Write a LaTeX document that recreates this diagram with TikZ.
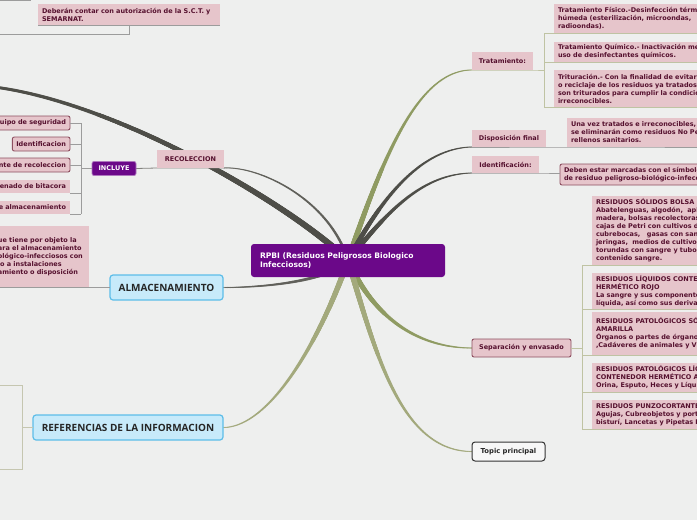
\documentclass[tikz,border=0pt]{standalone}
\usepackage{fontspec}
\setmainfont{DejaVu Sans}
\newfontfamily\osans{Open Sans}
\usetikzlibrary{calc,decorations.markings}
\definecolor{bgc}{HTML}{EEEFEE}
\definecolor{pinkf}{HTML}{E6C5CB}
\definecolor{pinkt}{HTML}{55102E}
\definecolor{pinkd}{HTML}{8E4F60}
\definecolor{purp}{HTML}{6B0889}
\definecolor{bluef}{HTML}{C7EAFA}
\definecolor{blued}{HTML}{5DBDE8}
\definecolor{darkl}{HTML}{4E4E48}
\definecolor{olv}{HTML}{8F9B62}
\definecolor{olvl}{HTML}{A3A97C}
\definecolor{grl}{HTML}{9C9C9C}
\definecolor{khk}{HTML}{C5C6B0}
\newcommand\pkfont{\fontsize{6.5}{8}\selectfont\bfseries}
\newcommand\rootfont{\fontsize{7.6}{9}\selectfont\bfseries}
\newcommand\bluefont{\osans\bfseries\fontsize{10}{12}\selectfont}
\newcommand\topfont{\fontsize{6.8}{8}\selectfont\bfseries}
\pgfdeclarelayer{bglayer}
\pgfdeclarelayer{linelayer}
\pgfsetlayers{bglayer,linelayer,main}
\tikzset{
  pk/.style={fill=pinkf, text=pinkt, font=\pkfont, inner xsep=4pt, inner ysep=2pt, anchor=north west, align=left, outer sep=0pt},
  pkb/.style={pk, draw=pinkd, line width=0.9pt, rounded corners=2pt},
  rootbox/.style={fill=purp, text=white, font=\rootfont, rounded corners=3pt, anchor=north west, align=left, inner xsep=9pt, outer sep=0pt},
  purpbox/.style={fill=purp, draw=purp!55!white, line width=0.8pt, text=white, font=\pkfont, rounded corners=2pt, anchor=north west, outer sep=0pt, inner sep=1pt},
  bluebox/.style={fill=bluef, draw=blued, line width=1.2pt, rounded corners=3pt, text=black!85, font=\bluefont, anchor=north west, outer sep=0pt, inner sep=1pt},
  topbox/.style={fill=black!3, draw=black!80, line width=1pt, rounded corners=3pt, text=black!85, font=\topfont, anchor=north west, outer sep=0pt, inner sep=1pt},
  taper/.style n args={3}{postaction={decorate, decoration={markings,
      mark=between positions 0 and 1 step 0.6pt with {%
        \pgfmathsetmacro\tapr{(#1+(#2-#1)*\pgfkeysvalueof{/pgf/decoration/mark info/distance from start}/\pgfdecoratedpathlength)/2}%
        \fill[#3] (0,0) circle (\tapr pt);}}}},
  gl/.style={draw=grl, line width=0.8pt},
  glo/.style={draw=olvl!70!white, line width=0.8pt},
  glk/.style={draw=khk, line width=0.9pt},
}
\begin{document}
\begin{tikzpicture}[x=1pt,y=-1pt]
\useasboundingbox (0,0) rectangle (697,520);
\begin{pgfonlayer}{bglayer}
\fill[bgc] (0,0) rectangle (697,520);
\end{pgfonlayer}
\clip (0,0) rectangle (697,520);

% root
\node[rootbox, minimum width=194pt, minimum height=33pt, text width=176pt] (root) at (251,244) {RPBI (Residuos Peligrosos Biologico\\Infecciosos)};

% ---------- left side ----------
\node[pk, text width=174pt, minimum height=21pt] (sct) at (38,4) {Deberán contar con autorización de la S.C.T. y\\SEMARNAT.};
\coordinate (tl1) at (-1,34);
\coordinate (tl2) at (-1,0.5);
\coordinate (tl3) at (31,0.5);
\draw[gl] (sct.south west) -- (sct.south east);
\draw[gl] (sct.south) |- (tl1);
\draw[gl] (tl2) -- (tl3);

\coordinate (ulend) at (-6,87);
\node[pk, minimum width=67pt, minimum height=18pt, align=center] (rec) at (157,150) {RECOLECCION};
\node[purpbox, minimum width=44pt, minimum height=14pt] (inc) at (92,161.5) {INCLUYE};

\node[pkb, anchor=north east, text width=90pt, align=right, minimum height=14pt] (e1) at (70,116) {uipo de seguridad};
\node[pkb, anchor=north east, minimum height=14pt] (e2) at (70,137) {Identificacion};
\node[pkb, anchor=north east, text width=90pt, align=right, minimum height=14pt] (e3) at (70,158) {nte de recoleccion};
\node[pk, anchor=north east, text width=90pt, align=right, minimum height=13pt] (e4) at (70,180) {lenado de bitacora};
\node[pk, anchor=north east, text width=90pt, align=right, minimum height=13pt] (e5) at (70,201) {e almacenamiento};
\coordinate (bt) at (81,123);
\coordinate (bb) at (81,214);
\draw[gl] (bt) -- (bb);
\draw[gl] (inc.west) -- (inc.west -| bt);
\draw[gl] (e1.east) -- (e1.east -| bt);
\draw[gl] (e2.east) -- (e2.east -| bt);
\draw[gl] (e3.east) -- (e3.east -| bt);
\draw[gl] (e4.south east) -- (e4.south east -| bt);
\draw[gl] (e5.south east) -- (e5.south east -| bt);

\node[bluebox, minimum width=113pt, minimum height=25pt] (alm) at (110,275) {ALMACENAMIENTO};
\node[pk, text width=90pt, inner xsep=1pt, minimum height=61pt] (almtxt) at (-3,226) {ue tiene por objeto la\\ara el almacenamiento\\ológico-infecciosos con\\io a instalaciones\\amiento o disposición};
\draw[gl] (alm.west) -- (alm.west -| almtxt.west);

\node[bluebox, minimum width=190pt, minimum height=25pt] (ref) at (33,415) {REFERENCIAS DE LA INFORMACION};
\coordinate (rb1) at (22,385);
\coordinate (rb2) at (22,469);
\coordinate (rl1) at (-1,385);
\coordinate (rl2) at (-1,469);
\draw[glk] (ref.west) -- (ref.west -| rb1);
\draw[glk] (rl1) -- (rb1) -- (rb2) -- (rl2);

% ---------- right side ----------
\node[pk, minimum width=61pt, minimum height=18pt] (trat) at (472,52) {Tratamiento:};
\node[pk, text width=190pt, minimum height=29pt] (t1) at (554,4) {Tratamiento Físico.-Desinfección térmica\\húmeda (esterilización, microondas,\\radioondas).};
\node[pk, text width=190pt, minimum height=20pt] (t2) at (554,42) {Tratamiento Químico.- Inactivación mediante\\uso de desinfectantes químicos.};
\node[pk, text width=190pt, minimum height=37pt] (t3) at (554,70) {Trituración.- Con la finalidad de evitar el\\o reciclaje de los residuos ya tratados, estos\\son triturados para cumplir la condición de\\irreconocibles.};
\coordinate (tbt) at (544,33);
\coordinate (tbb) at (544,107);
\draw[glo] (tbt) -- (tbb);
\draw[glo] (trat.south west) -- (trat.south east) -- (trat.south east -| tbt);
\draw[glo] (t1.south west -| tbt) -- (t1.south east);
\draw[glo] (t2.south west -| tbt) -- (t2.south east);
\draw[glo] (t3.south west -| tbt) -- (t3.south east);

\node[pk, minimum width=74pt, minimum height=17pt] (disp) at (472,130) {Disposición final};
\node[pk, text width=190pt, minimum height=29pt] (dispc) at (567,118) {Una vez tratados e irreconocibles,\\se eliminarán como residuos No Peligrosos\\rellenos sanitarios.};
\draw[gl] (disp.south west) -- (disp.south east) -- (dispc.south west) -- (dispc.south east);

\node[pk, minimum width=67pt, minimum height=17pt] (iden) at (472,156) {Identificación:};
\node[pkb, text width=190pt, minimum height=21pt] (idenc) at (560,164) {Deben estar marcadas con el símbolo\\de residuo peligroso-biológico-infeccioso};
\draw[gl] (iden.south west) -- (iden.south east) -- (iden.south east -| idenc.west);

\node[pkb, minimum width=99pt, minimum height=18pt] (sep) at (472,339) {Separación y envasado};
\node[pk, text width=190pt, minimum height=69pt] (s1) at (592,196) {RESIDUOS SÓLIDOS BOLSA ROJA\\Abatelenguas, algodón,\ \ aplicadores de\\madera, bolsas recolectoras de sangre,\\cajas de Petri con cultivos de\\cubrebocas,\ \ \ gasas con sangre,\\jeringas,\ \ medios de cultivo,\\torundas con sangre y tubos con\\contenido sangre.};
\node[pk, text width=190pt, minimum height=36pt] (s2) at (592,273) {RESIDUOS LÍQUIDOS CONTENEDOR\\HERMÉTICO ROJO\\La sangre y sus componentes en\\líquida, así como sus derivados.};
\node[pk, text width=190pt, minimum height=43pt] (s3) at (592,312) {RESIDUOS PATOLÓGICOS SÓLIDOS\\AMARILLA\\Órganos o partes de órganos\\,Cadáveres de animales y Vísceras};
\node[pk, text width=190pt, minimum height=29pt] (s4) at (592,363) {RESIDUOS PATOLÓGICOS LÍQUIDOS\\CONTENEDOR HERMÉTICO AMARILLO\\Orina, Esputo, Heces y Líquidos};
\node[pk, text width=190pt, minimum height=29pt] (s5) at (592,400) {RESIDUOS PUNZOCORTANTES\\Agujas, Cubreobjetos y portaobjetos,\\bisturí, Lancetas y Pipetas Pasteur};
\coordinate (sbt) at (582,265);
\coordinate (sbb) at (582,429);
\draw[glo] (sbt) -- (sbb);
\draw[glo] (sep.east) -- (sep.east -| sbt);
\draw[glo] (s1.south west -| sbt) -- (s1.south east);
\draw[glo] (s2.south west -| sbt) -- (s2.south east);
\draw[glo] (s3.south west -| sbt) -- (s3.south east);
\draw[glo] (s4.south west -| sbt) -- (s4.south east);
\draw[glo] (s5.south west -| sbt) -- (s5.south east);

\node[topbox, minimum width=73pt, minimum height=19pt] (top) at (472,442) {Topic principal};

% ---------- connectors from root (tapered) ----------
\begin{pgfonlayer}{linelayer}
\path[taper={6.5}{3}{darkl}] (root.center) .. controls (295,208) and (120,103) .. (ulend);
\path[taper={3}{1}{darkl!90}] (root.center) .. controls (330,200) and (260,166) .. (rec.south east);
\draw[gl, draw=darkl!70] (rec.south east) -- (rec.south west) -- (inc.east);
\path[taper={4}{1}{darkl!90}] (root.center) .. controls (330,280) and (270,287.5) .. (alm.east);
\path[taper={6}{1}{olvl}] (root.center) .. controls (320,340) and (270,427.5) .. (ref.east);
\path[taper={6}{1}{olv}] (root.center) .. controls (385,150) and (420,70) .. (trat.south west);
\path[taper={5.5}{1}{darkl}] (root.center) .. controls (380,200) and (420,148) .. (disp.south west);
\path[taper={5.5}{1}{darkl}] (root.center) .. controls (385,215) and (420,174) .. (iden.south west);
\path[taper={6}{1}{olv}] (root.center) .. controls (375,320) and (420,348) .. (sep.west);
\path[taper={6}{1}{olvl}] (root.center) .. controls (375,350) and (400,451.5) .. (top.west);
\end{pgfonlayer}
\end{tikzpicture}
\end{document}
